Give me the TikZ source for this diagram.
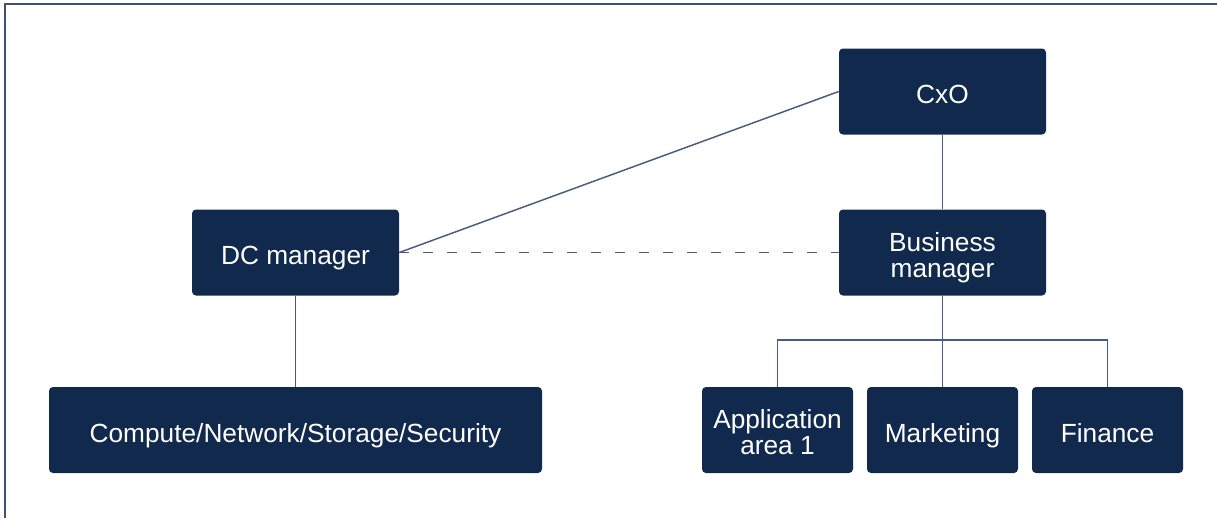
\documentclass[tikz,border=0pt]{standalone}
\usepackage{fontspec}
\setmainfont{Liberation Sans}
\usepackage{xcolor}
\usepackage{tikz}
\usetikzlibrary{positioning, calc}
\definecolor{OrgNavy}{RGB}{16, 41, 77}
\definecolor{OrgLine}{RGB}{72, 92, 126}
\definecolor{OrgFrame}{RGB}{62, 82, 112}

\begin{document}
\begin{tikzpicture}[x=0.75pt, y=-0.75pt,
    rolebox/.style={rounded corners=3pt, fill=OrgNavy, draw=none, text=white,
      align=center, inner sep=2pt, minimum height=64.5pt,
      text height=18pt, text depth=0pt,
      font=\fontsize{19.7}{19.5}\selectfont},
    twoline/.style={text height=37.2pt, text depth=0pt},
    wide/.style={rolebox, minimum width=155.25pt},
    narrow/.style={rolebox, minimum width=113.25pt},
    link/.style={draw=OrgLine, line width=1.1pt}]
  \useasboundingbox (0,0) rectangle (1217,518);
  % frame (top and left edge only)
  \draw[OrgFrame, line width=1.6pt] (1217,4) -- (5,4) -- (5,518);

  % upper level
  \node[wide] (cxo) at (942.5,91.5) {CxO};
  \node[wide] (dcmgr) at (295.5,252.5) {DC manager};
  \node[wide, twoline] (bizmgr) at (942.5,252.5) {Business\\manager};

  % lower level
  \node[rolebox, minimum width=369.75pt] (infra) at (295.5,430) {Compute/Network/Storage/Security};
  \node[narrow, twoline] (appone) at (777.5,430) {Application\\area 1};
  \node[narrow] (mkt) at (942.5,430) {Marketing};
  \node[narrow] (fin) at (1107.5,430) {Finance};

  % connectors
  \draw[link] (dcmgr.east) -- (cxo.west);
  \draw[link, dash pattern=on 7.5pt off 10.5pt] (dcmgr.east) -- (bizmgr.west);
  \draw[link] (cxo) -- (bizmgr);
  \draw[link] (dcmgr) -- (infra);
  \coordinate (split) at (942.5,340);
  \draw[link] (bizmgr) -- (mkt);
  \draw[link] (appone.north) |- (split) -| (fin.north);
\end{tikzpicture}
\end{document}
